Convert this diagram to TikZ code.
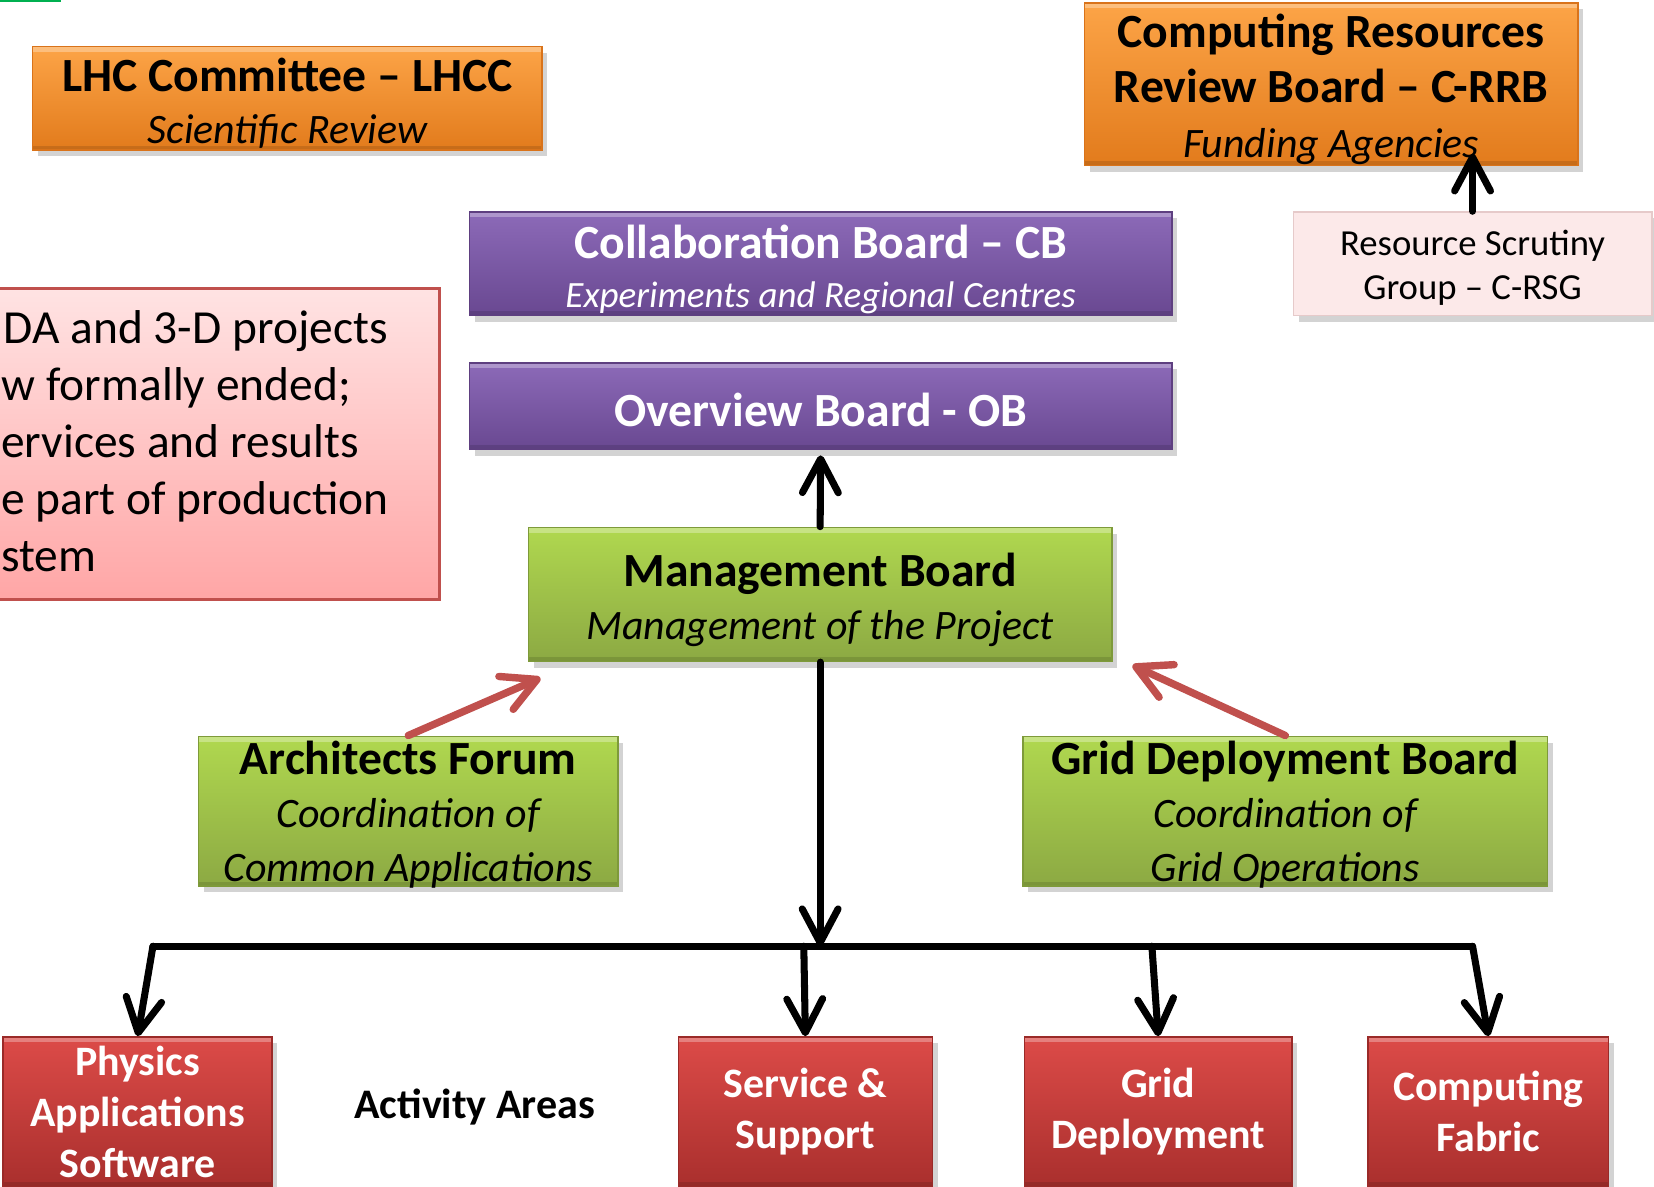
\documentclass[tikz,border=0pt]{standalone}
\usepackage{fontspec}
\setmainfont{Carlito}
\usetikzlibrary{arrows.meta,positioning,shadows}

\definecolor{orangeTop}{HTML}{FCA447}
\definecolor{orangeBot}{HTML}{E27B1C}
\definecolor{orangeEdge}{HTML}{D9731A}
\definecolor{purpleTop}{HTML}{8C6AB8}
\definecolor{purpleBot}{HTML}{694891}
\definecolor{purpleEdge}{HTML}{5E3F80}
\definecolor{greenTop}{HTML}{B0D84F}
\definecolor{greenBot}{HTML}{8CA943}
\definecolor{greenEdge}{HTML}{7E9A3A}
\definecolor{redTop}{HTML}{DC4B48}
\definecolor{redBot}{HTML}{A92F2D}
\definecolor{redEdge}{HTML}{9A2A28}
\definecolor{rsgFill}{HTML}{FCE9E9}
\definecolor{rsgEdge}{HTML}{E6CACA}
\definecolor{noteTop}{HTML}{FFE3E3}
\definecolor{noteBot}{HTML}{FFA6A6}
\definecolor{feedRed}{HTML}{C0504D}
\definecolor{barGreen}{HTML}{00B050}

% font sizes for the boards
\newcommand\boardsub{\fontsize{11.3}{14}\selectfont\mdseries\itshape}
% pushes a board's text a little down
\newcommand\lift[1]{\rule{0pt}{#1}}

\tikzset{
  board/.style={rectangle, align=center, inner sep=0pt, line width=0.4pt,
    drop shadow={shadow xshift=0.5mm, shadow yshift=-0.6mm, opacity=0.35},
    path picture={
      \fill[white, opacity=0.3] (path picture bounding box.north west) rectangle ([yshift=-0.5mm]path picture bounding box.north east);
      \fill[black, opacity=0.12] (path picture bounding box.south west) rectangle ([yshift=0.4mm]path picture bounding box.south east);
    }},
  review/.style={board, draw=orangeEdge, top color=orangeTop, bottom color=orangeBot},
  steer/.style={board, draw=purpleEdge, top color=purpleTop, bottom color=purpleBot, text=white},
  mgmt/.style={board, draw=greenEdge, top color=greenTop, bottom color=greenBot},
  area/.style={board, draw=redEdge, top color=redTop, bottom color=redBot, text=white,
    minimum height=14.2mm, font=\fontsize{11.3}{13.8}\selectfont\bfseries},
  note/.style={rectangle, draw=feedRed, line width=0.8pt, top color=noteTop, bottom color=noteBot},
  flow/.style={line width=1.9pt, line cap=round, -{Straight Barb[length=3.2mm,width=3.4mm,round]}},
  feed/.style={flow, draw=feedRed, line width=2pt},
}

\begin{document}
\begin{tikzpicture}[x=0.1mm, y=-0.1mm]
\useasboundingbox (0,0) rectangle (1568,1125);
\fill[barGreen] (0,0) rectangle (58,2);

% review bodies
\node[review, minimum width=48.3mm, minimum height=9.8mm, font=\fontsize{12.85}{14.2}\selectfont\bfseries] (lhcc) at (272.5,93)
  {\lift{11.8pt}LHC Committee – LHCC\\{\boardsub Scientific Review}};
\node[review, minimum width=46.8mm, minimum height=15.4mm, font=\fontsize{12.85}{14.9}\selectfont\bfseries] (crrb) at (1262,80)
  {\lift{11.8pt}Computing Resources\\Review Board – C-RRB\\{\boardsub Funding Agencies}};
\node[board, path picture={}, draw=rsgEdge, fill=rsgFill, minimum width=34mm, minimum height=9.8mm, font=\fontsize{9.9}{12}\selectfont] (crsg) at (1396,250)
  {\lift{8.9pt}Resource Scrutiny\\Group – C-RSG};

% collaboration and overview
\node[steer, minimum width=66.6mm, minimum height=9.8mm, font=\fontsize{12.85}{13.4}\selectfont\bfseries] (cb) at (778,250)
  {\lift{12.2pt}Collaboration Board – CB\\{\fontsize{10}{12}\selectfont\mdseries\itshape Experiments and Regional Centres}};
\node[steer, minimum width=66.6mm, minimum height=8.2mm, font=\fontsize{12.85}{14}\selectfont\bfseries] (ob) at (778,385)
  {\lift{11pt}Overview Board - OB};

% side note
\node[note, anchor=north west, minimum width=45.5mm, minimum height=29.5mm] (ended) at (-40,272) {};
\node[anchor=west, xshift=4.3mm, yshift=0.25mm, inner sep=0, align=left, font=\fontsize{12.8}{15.4}\selectfont] (endedtext) at (ended.west)
  {DA and 3-D projects\\\hspace*{-0.2mm}w formally ended;\\\hspace*{-0.25mm}ervices and results\\\hspace*{-0.25mm}e part of production\\\hspace*{-0.25mm}stem};

% management level
\node[mgmt, minimum width=55.3mm, minimum height=12.7mm, font=\fontsize{12.85}{14.5}\selectfont\bfseries] (mb) at (777.5,563.5)
  {\lift{12pt}Management Board\\{\boardsub Management of the Project}};
\node[mgmt, minimum width=39.8mm, minimum height=14.2mm, text depth=0pt, font=\fontsize{12.85}{14.4}\selectfont\bfseries] (af) at (387,769)
  {Architects Forum\\{\boardsub Coordination of}\\{\boardsub Common Applications}};
\node[mgmt, minimum width=49.7mm, minimum height=14.2mm, text depth=0pt, font=\fontsize{12.85}{14.4}\selectfont\bfseries] (gdb) at (1218.5,769)
  {Grid Deployment Board\\{\boardsub Coordination of}\\{\boardsub Grid Operations}};

% activity areas
\node[area, minimum width=25.5mm] (phys) at (130.5,1054) {Physics\\Applications\\Software};
\node[area, minimum width=24.1mm] (serv) at (763.5,1054) {Service \&\\Support};
\node[area, minimum width=25.4mm] (grid) at (1098,1054) {Grid\\Deployment};
\node[area, minimum width=22.8mm] (fabric) at (1411,1054) {Computing\\Fabric};
\node[font=\fontsize{11.35}{13}\selectfont\bfseries] (areas) at (450,1049) {Activity Areas};

% bus to the areas
\coordinate (tapA) at (145,897);
\coordinate (tapB) at (762,897);
\coordinate (tapC) at (1092,897);
\coordinate (tapD) at (1396,897);

\draw[flow, shorten >=-1.2mm] (crsg.north) -- (crsg.north |- crrb.south);
\draw[flow, shorten >=0.5mm] (mb.north) -- (ob.south);
\draw[flow] (mb.south) -- (mb.south |- tapA);
\draw[line width=1.9pt, line cap=round] (tapA) -- (tapD);
\foreach \tap/\area in {tapA/phys, tapB/serv, tapC/grid, tapD/fabric}
  \draw[flow] (\tap) -- (\area.north);
\draw[feed] (af.north) -- ([shift={(12,15)}]mb.south west);
\draw[feed] (gdb.north) -- ([shift={(19,3)}]mb.south east);
\end{tikzpicture}
\end{document}
